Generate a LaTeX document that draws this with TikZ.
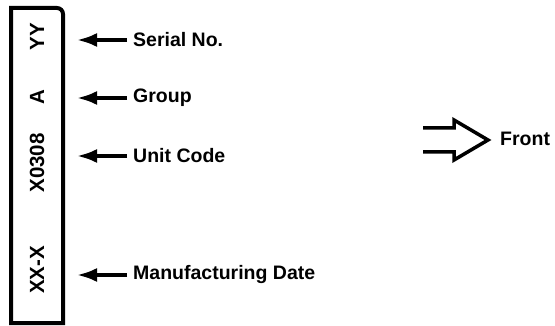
\documentclass[tikz,border=0pt]{standalone}
\usepackage{fontspec}
\setmainfont{Liberation Sans}
\usetikzlibrary{arrows.meta}

\begin{document}
\begin{tikzpicture}[x=1pt,y=-1pt,
		codetext/.style={rotate=90,font=\bfseries\fontsize{20.5}{20.5}\selectfont,inner sep=0pt},
		labeltext/.style={anchor=west,font=\bfseries\fontsize{19.5}{19.5}\selectfont,inner xsep=6pt,inner ysep=0pt},
		pointer/.style={line width=3.5pt,-{Latex[length=20pt,width=14pt]}}]
		\useasboundingbox (0,0) rectangle (555,326);
		% the label strip
		\draw[line width=4pt] (11,323) -- (11,8) [rounded corners=6pt] -- (63,8) [sharp corners] -- (63,323) -- cycle;
		\node[codetext] (serialcode) at (37,37) {YY};
		\node[codetext] (groupcode) at (37,97) {A};
		\node[codetext] (unitcode) at (37,163) {X0308};
		\node[codetext] (datecode) at (37,270) {XX-X};
		\coordinate (tip) at (77,0);
		\node[labeltext] (serial) at (127,40) {Serial No.};
		\node[labeltext] (group) at (127,98) {Group};
		\node[labeltext] (unit) at (127,156) {Unit Code};
		\node[labeltext] (date) at (127,275) {Manufacturing Date};
		\draw[pointer] (serial.west) -- (serial.west -| tip);
		\draw[pointer] (group.west) -- (group.west -| tip);
		\draw[pointer] (unit.west) -- (unit.west -| tip);
		\draw[pointer] (date.west) -- (date.west -| tip);
		% front direction
		\node[labeltext,inner xsep=0pt] (front) at (500,139) {Front};
		\coordinate (head) at (488,140);
		\draw[line width=3.5pt,line join=miter] ([shift={(-65,-12)}]head) -- ([shift={(-34,-12)}]head) -- ([shift={(-34,-20)}]head) -- (head) -- ([shift={(-34,20)}]head) -- ([shift={(-34,12)}]head) -- ([shift={(-65,12)}]head);
	\end{tikzpicture}
\end{document}
